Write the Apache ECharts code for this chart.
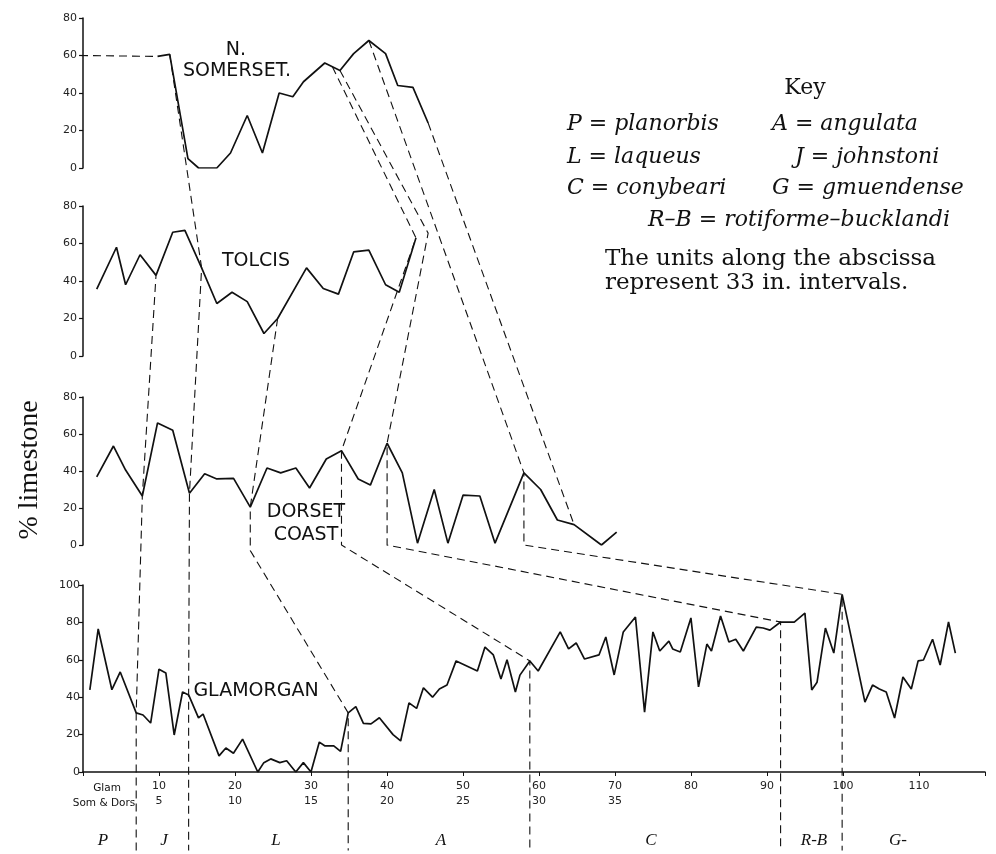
<!DOCTYPE html>
<html><head><meta charset="utf-8">
<script src="https://cdn.jsdelivr.net/npm/echarts@6/dist/echarts.min.js"></script>
<style>html,body{margin:0;padding:0;background:#fff}#c{width:996px;height:854px}</style>
</head><body><div id="c"></div>
<script>
// ---------- data (x in "Som & Dors" units for upper panels, Glam units for Glamorgan) ----------
const somDashX = [-0.2, 4.9];
const somDashY = [60, 59.5];
const somX = [4.9, 5.7, 6.9, 7.6, 8.8, 9.7, 10.8, 11.8, 12.9, 13.8, 14.5, 15.9, 16.9, 17.8, 18.8, 19.9, 20.7, 21.7, 22.7];
const somY = [59.5, 60.6, 5, 0, 0, 8, 28, 8, 40, 38, 46, 56, 52, 61, 68, 61, 44, 43, 24];

const tolX = [0.9, 2.2, 2.8, 3.75, 4.8, 5.9, 6.7, 7.8, 8.8, 9.8, 10.8, 11.9, 12.8, 14.7, 15.8, 16.8, 17.8, 18.8, 19.9, 20.8, 21.9];
const tolY = [35.7, 58, 38, 54, 43, 66, 67, 47, 28, 34, 29, 12, 20, 47, 36, 33, 55.5, 56.5, 38, 34, 63];

const dorX = [0.9, 2.0, 2.8, 3.9, 4.9, 5.9, 7.0, 8.0, 8.8, 9.9, 11.0, 12.1, 13.0, 14.0, 14.9, 16.0, 17.0, 18.1, 18.9, 20.0, 21.0, 22.0, 23.1, 24.0, 25.0, 26.1, 27.1, 29.0, 30.1, 31.2, 32.3, 34.1, 35.1];
const dorY = [36.8, 53.5, 40.5, 26.5, 66, 62, 28, 38.5, 35.7, 36, 20.5, 41.6, 39, 41.6, 30.8, 46.5, 51, 35.7, 32.4, 55, 39, 1, 30, 1, 27, 26.5, 1, 39, 30, 13.5, 11, 0, 7];

const glamX = [0.9, 2.0, 3.8, 4.9, 7.0, 7.9, 8.9, 10.0, 10.9, 12.0, 13.1, 13.9, 15.2, 15.8, 17.9, 18.8, 19.8, 21.0, 23.0, 23.8, 24.7, 25.9, 26.8, 28.0, 29.0, 30.0, 31.1, 31.8, 33.0, 33.9, 34.9, 35.9, 36.9, 37.9, 39.0, 40.8, 41.8, 42.9, 43.9, 44.8, 46.0, 46.9, 47.9, 49.1, 51.9, 52.9, 54.0, 55.0, 55.8, 56.9, 57.5, 58.8, 59.9, 62.8, 63.9, 64.9, 66.0, 67.9, 68.8, 69.9, 71.1, 72.7, 73.9, 75.0, 75.9, 77.1, 77.6, 78.6, 80.0, 81.0, 82.1, 82.7, 83.9, 85.0, 85.9, 86.9, 88.6, 89.5, 90.4, 91.8, 93.6, 95.0, 95.9, 96.6, 97.7, 98.8, 99.9, 102.9, 103.9, 104.8, 105.7, 106.8, 107.9, 109.0, 109.9, 110.6, 111.8, 112.8, 113.9, 114.8];
const glamY = [43.9, 76.5, 44, 53.5, 31.6, 30.5, 26.2, 55, 53, 19.8, 42.8, 41.2, 28.9, 31, 8.6, 12.8, 10, 17.6, 0, 5, 7, 5, 6, 0, 5, 0, 16, 14, 14, 11, 31.6, 35, 26, 25.7, 29, 20, 16.6, 37, 34, 45, 40, 44.4, 46.5, 59.4, 54, 66.8, 62.6, 49.7, 60, 42.8, 51.8, 59.4, 54, 74.9, 65.8, 69, 60.4, 62.6, 72.2, 51.9, 74.9, 82.9, 32, 74.9, 64.7, 70, 65.8, 64.2, 82.4, 45.5, 68.4, 64.7, 83.4, 69.5, 71, 64.7, 77.5, 77, 75.9, 80.2, 80.2, 85, 43.9, 48, 77, 63.6, 95, 37.4, 46.5, 44.4, 42.8, 28.9, 50.8, 44.4, 59.4, 59.9, 71, 57.2, 80.2, 63.6];

// tick labels
const glamTickLabels = [10, 20, 30, 40, 50, 60, 70, 80, 90, 100, 110];
const somDorsTickLabels = [5, 10, 15, 20, 25, 30, 35];
const zoneLabels = ['P', 'J', 'L', 'A', 'C', 'R-B', 'G-'];

// correlation (dashed) lines: [panel, x, y%]; S=N. Somerset, T=Tolcis, D=Dorset, G=Glamorgan
const corrPJ  = [['G', 7.0, -42], ['G', 7.0, 31.6], ['D', 3.9, 26.5], ['T', 4.8, 43]];
const corrJL  = [['S', 5.7, 60.6], ['T', 7.8, 47], ['D', 7.0, 28], ['G', 13.9, 41.2], ['G', 13.9, -42]];
const corrLA  = [['T', 12.8, 20], ['D', 11.0, 20.5], ['D', 11.0, -3], ['G', 34.9, 31.6], ['G', 34.9, -42]];
const corrAC  = [['S', 16.4, 54], ['T', 21.9, 63], ['D', 17.0, 51], ['D', 17.0, 0], ['G', 58.8, 59.4], ['G', 58.8, -42]];
const corrCRB = [['S', 16.9, 52], ['T', 22.7, 65.5], ['D', 20.0, 55], ['D', 20.0, 0], ['G', 91.8, 80.2], ['G', 91.8, -42]];
const corrRBG = [['S', 18.8, 68], ['D', 29.0, 39], ['D', 29.0, 0], ['G', 99.9, 95], ['G', 99.9, -42]];
const corrEnd = [['S', 22.7, 24], ['D', 32.3, 11]];

// ---------- chart ----------
const chart = echarts.init(document.getElementById('c'), null, {renderer: 'canvas'});
const SANS = 'DejaVu Sans';
const SERIF = 'DejaVu Serif';
const INK = '#111';

function yAx(gi, max) {
  return {type: 'value', gridIndex: gi, min: 0, max: max, interval: 20,
    axisLine: {show: true, lineStyle: {color: INK, width: 1.5}},
    axisTick: {show: true, length: 4, lineStyle: {color: INK, width: 1.2}},
    axisLabel: {color: '#222', fontSize: 11, fontFamily: SANS, margin: 3},
    splitLine: {show: false}};
}
function xHidden(gi) {
  return {type: 'value', gridIndex: gi, min: -0.2, max: 59.0, show: false};
}
const pair = (xs, ys) => xs.map((x, i) => [x, ys[i]]);
function lineS(idx, xs, ys, dashed) {
  return {type: 'line', xAxisIndex: idx, yAxisIndex: idx, data: pair(xs, ys), symbol: 'none',
    silent: true, z: 3, lineStyle: {color: INK, width: dashed ? 1.1 : 1.7, type: dashed ? [8, 5] : 'solid'}};
}

chart.setOption({
  animation: false,
  backgroundColor: '#fff',
  grid: [
    {left: 80, top: 18, width: 900, height: 150},
    {left: 80, top: 206, width: 900, height: 150},
    {left: 80, top: 397, width: 900, height: 148},
    {left: 83, top: 585, width: 902, height: 187}
  ],
  xAxis: [
    xHidden(0), xHidden(1), xHidden(2),
    {type: 'value', gridIndex: 3, position: 'bottom', min: 0, max: 118.7, interval: 10,
      axisLine: {show: true, lineStyle: {color: INK, width: 1.6}},
      axisTick: {show: true, length: 4, lineStyle: {color: INK, width: 1}},
      axisLabel: {fontSize: 11, fontFamily: SANS, color: '#222', margin: 9,
        formatter: v => glamTickLabels.includes(v) ? String(v) : ''},
      splitLine: {show: false}},
    {type: 'value', gridIndex: 3, position: 'bottom', offset: 15, min: 0, max: 59.35, interval: 5,
      axisLine: {show: false}, axisTick: {show: false},
      axisLabel: {fontSize: 11, fontFamily: SANS, color: '#222', margin: 9,
        formatter: v => somDorsTickLabels.includes(v) ? String(v) : ''},
      splitLine: {show: false}}
  ],
  yAxis: [yAx(0, 80), yAx(1, 80), yAx(2, 80), yAx(3, 100)],
  series: [
    lineS(0, somDashX, somDashY, true),
    lineS(0, somX, somY, false),
    lineS(1, tolX, tolY, false),
    lineS(2, dorX, dorY, false),
    lineS(3, glamX, glamY, false)
  ]
});

const PANEL = {S: 0, T: 1, D: 2, G: 3};
const toPx = p => chart.convertToPixel({xAxisIndex: PANEL[p[0]], yAxisIndex: PANEL[p[0]]}, [p[1], p[2]]);
const corrLines = [corrPJ, corrJL, corrLA, corrAC, corrCRB, corrRBG, corrEnd];

const g = corrLines.map(l => ({type: 'polyline', silent: true, z: 2,
  shape: {points: l.map(toPx)},
  style: {stroke: INK, lineWidth: 1.1, lineDash: [8, 5], fill: null}}));

function txt(x, y, text, o) {
  o = o || {};
  return {type: 'text', x: x, y: y, rotation: o.rot || 0, silent: true, z: 5,
    style: {text: text, fill: INK, fontFamily: o.family || SANS, fontSize: o.size || 18,
      fontStyle: o.style || 'normal', fontWeight: o.weight || 'normal',
      align: o.align || 'center', verticalAlign: 'middle', rich: o.rich}};
}
// panel names
g.push(txt(236, 50, 'N.', {size: 19}));
g.push(txt(237, 71, 'SOMERSET.', {size: 19}));
g.push(txt(256, 261, 'TOLCIS', {size: 19}));
g.push(txt(306, 512, 'DORSET', {size: 19}));
g.push(txt(306, 535, 'COAST', {size: 19}));
g.push(txt(256, 691, 'GLAMORGAN', {size: 19}));
// axis captions
g.push(txt(30, 470, '% limestone', {family: 'Liberation Serif', size: 28, rot: Math.PI / 2}));
g.push(txt(107, 788, 'Glam', {size: 10.5}));
g.push(txt(104, 803, 'Som & Dors', {size: 10.5}));
// zone labels
const zoneX = [103, 164, 276, 441, 651, 814, 898];
zoneLabels.forEach((z, i) => g.push(txt(zoneX[i], 841, z, {family: 'Liberation Serif', size: 17, style: 'italic'})));
// key
const it = {i: {fontStyle: 'italic', fontFamily: SERIF, fontSize: 22, fill: INK}};
const K = {family: SERIF, size: 22, align: 'left', rich: it};
g.push(txt(805, 88, 'Key', {family: SERIF, size: 22}));
g.push(txt(567, 124, '{i|P} = {i|planorbis}', K));
g.push(txt(772, 124, '{i|A} = {i|angulata}', K));
g.push(txt(567, 157, '{i|L} = {i|laqueus}', K));
g.push(txt(795, 157, '{i|J} = {i|johnstoni}', K));
g.push(txt(567, 188, '{i|C} = {i|conybeari}', K));
g.push(txt(772, 188, '{i|G} = {i|gmuendense}', K));
g.push(txt(648, 220, '{i|R–B} = {i|rotiforme–bucklandi}', K));
g.push(txt(605, 259, 'The units along the abscissa', {family: SERIF, size: 23, align: 'left'}));
g.push(txt(605, 283, 'represent 33 in. intervals.', {family: SERIF, size: 23, align: 'left'}));

chart.setOption({graphic: g});
</script>
</body></html>
